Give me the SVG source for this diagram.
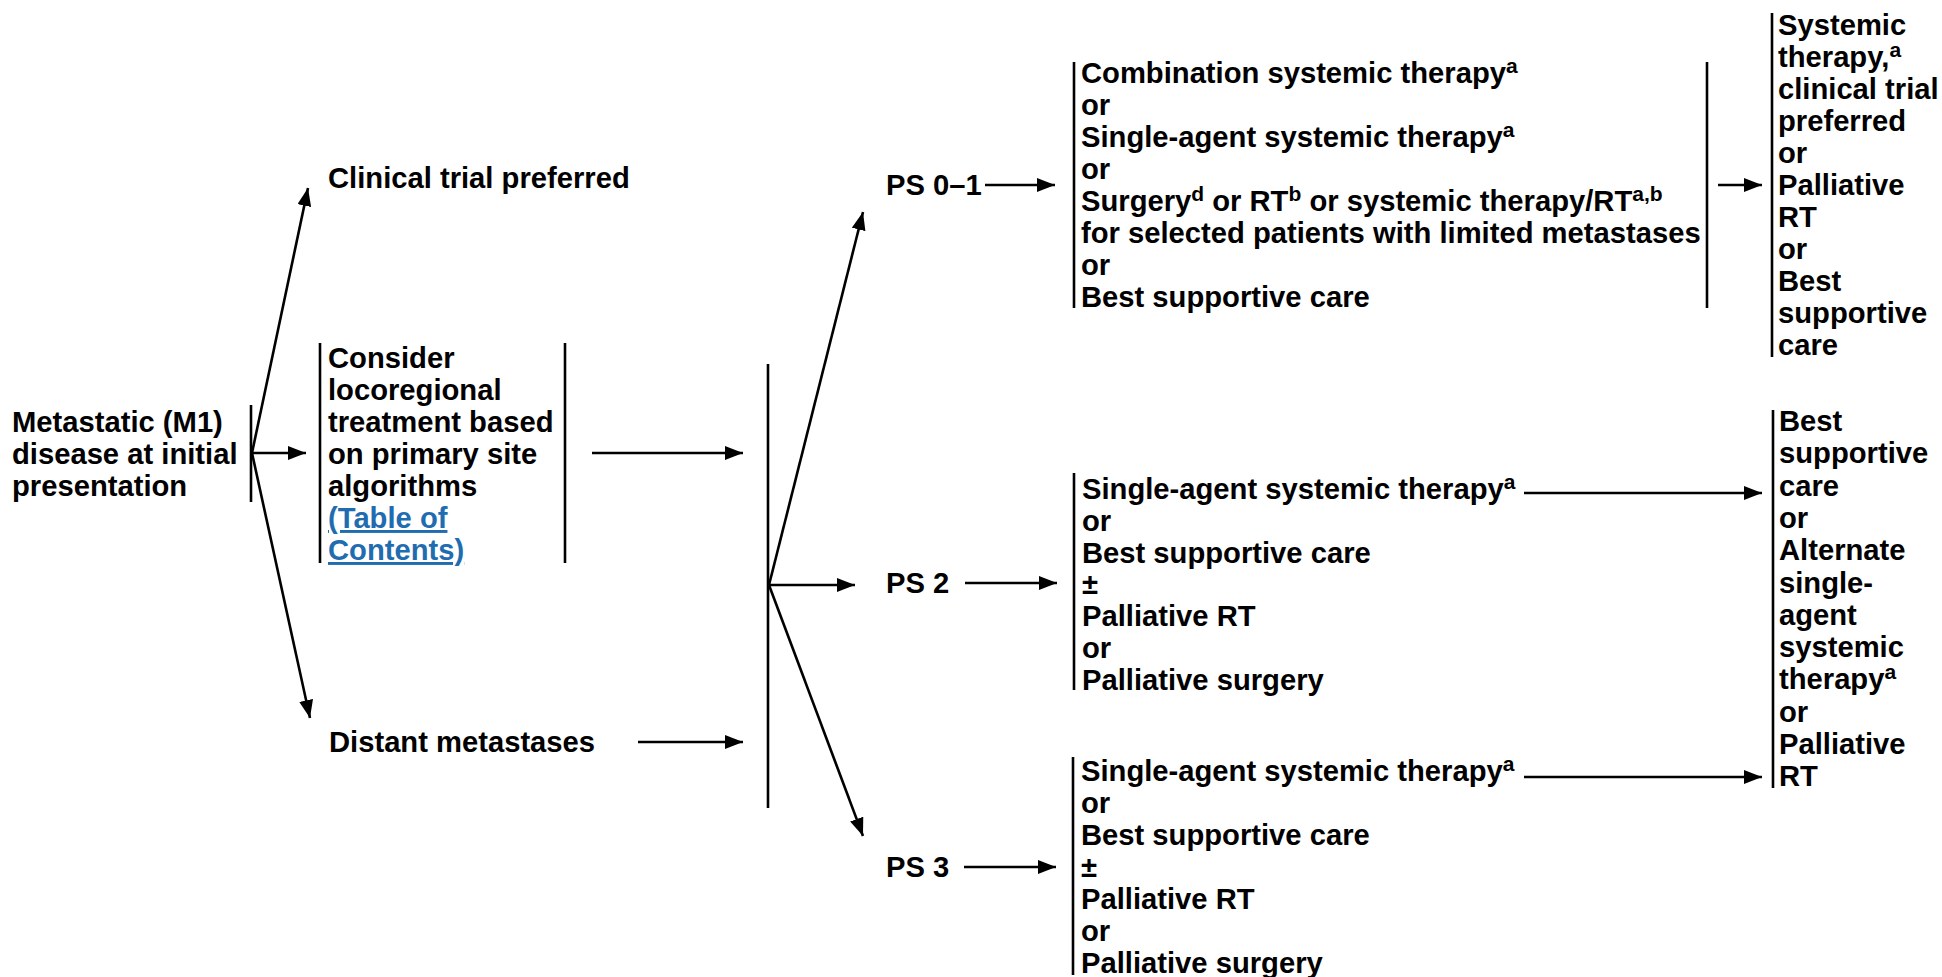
<svg xmlns="http://www.w3.org/2000/svg" width="1942" height="977" viewBox="0 0 1942 977">
<style>
text{font-family:"Liberation Sans",Arial,sans-serif;font-weight:bold;font-size:29.2px;fill:#000}
.sup{font-size:21px}
.link{fill:#1f6db0;text-decoration:underline}
.bar{stroke:#000;stroke-width:2.6;fill:none}
.con{stroke:#000;stroke-width:2.6;fill:none;marker-end:url(#ah)}
</style>
<defs>
<marker id="ah" markerUnits="userSpaceOnUse" markerWidth="18" markerHeight="14" refX="18" refY="7" orient="auto">
<path d="M0,0 L18,7 L0,14 z" fill="#000"/>
</marker>
</defs>
<rect width="1942" height="977" fill="#fff"/>

<g id="m1">
<text x="12" y="432">Metastatic (M1)</text>
<text x="12" y="464">disease at initial</text>
<text x="12" y="496">presentation</text>
<line class="bar" x1="251" y1="405" x2="251" y2="502"/>
</g>

<g id="clinical-trial">
<text x="328" y="188">Clinical trial preferred</text>
</g>

<g id="consider">
<line class="bar" x1="320" y1="343" x2="320" y2="563"/>
<line class="bar" x1="565" y1="343" x2="565" y2="563"/>
<text x="328" y="368">Consider</text>
<text x="328" y="400">locoregional</text>
<text x="328" y="432">treatment based</text>
<text x="328" y="464">on primary site</text>
<text x="328" y="496">algorithms</text>
<text x="328" y="528" class="link">(Table of</text>
<text x="328" y="560" class="link">Contents)</text>
</g>

<g id="distant">
<text x="329" y="752">Distant metastases</text>
</g>

<g id="merge-bar">
<line class="bar" x1="768" y1="364" x2="768" y2="808"/>
</g>

<g id="ps01">
<text x="886" y="195">PS 0–1</text>
</g>
<g id="ps2">
<text x="886" y="593">PS 2</text>
</g>
<g id="ps3">
<text x="886" y="877">PS 3</text>
</g>

<g id="ps01-options">
<line class="bar" x1="1074" y1="62" x2="1074" y2="308"/>
<line class="bar" x1="1707" y1="62" x2="1707" y2="308"/>
<text x="1081" y="83">Combination systemic therapy<tspan class="sup" dy="-10">a</tspan></text>
<text x="1081" y="115">or</text>
<text x="1081" y="147">Single-agent systemic therapy<tspan class="sup" dy="-10">a</tspan></text>
<text x="1081" y="179">or</text>
<text x="1081" y="211">Surgery<tspan class="sup" dy="-10">d</tspan><tspan dy="10"> or RT</tspan><tspan class="sup" dy="-10">b</tspan><tspan dy="10"> or systemic therapy/RT</tspan><tspan class="sup" dy="-10">a,b</tspan></text>
<text x="1081" y="243">for selected patients with limited metastases</text>
<text x="1081" y="275">or</text>
<text x="1081" y="307">Best supportive care</text>
</g>

<g id="ps01-next">
<line class="bar" x1="1772" y1="13" x2="1772" y2="357"/>
<text x="1778" y="35">Systemic</text>
<text x="1778" y="67">therapy,<tspan class="sup" dy="-10">a</tspan></text>
<text x="1778" y="99">clinical trial</text>
<text x="1778" y="131">preferred</text>
<text x="1778" y="163">or</text>
<text x="1778" y="195">Palliative</text>
<text x="1778" y="227">RT</text>
<text x="1778" y="259">or</text>
<text x="1778" y="291">Best</text>
<text x="1778" y="323">supportive</text>
<text x="1778" y="355">care</text>
</g>

<g id="ps2-options">
<line class="bar" x1="1074" y1="473" x2="1074" y2="690"/>
<text x="1082" y="499">Single-agent systemic therapy<tspan class="sup" dy="-10">a</tspan></text>
<text x="1082" y="531">or</text>
<text x="1082" y="563">Best supportive care</text>
<text x="1082" y="594">±</text>
<text x="1082" y="626">Palliative RT</text>
<text x="1082" y="658">or</text>
<text x="1082" y="690">Palliative surgery</text>
</g>

<g id="ps3-options">
<line class="bar" x1="1073" y1="757" x2="1073" y2="975"/>
<text x="1081" y="781">Single-agent systemic therapy<tspan class="sup" dy="-10">a</tspan></text>
<text x="1081" y="813">or</text>
<text x="1081" y="845">Best supportive care</text>
<text x="1081" y="877">±</text>
<text x="1081" y="909">Palliative RT</text>
<text x="1081" y="941">or</text>
<text x="1081" y="973">Palliative surgery</text>
</g>

<g id="ps23-next">
<line class="bar" x1="1773" y1="410" x2="1773" y2="788"/>
<text x="1779" y="431">Best</text>
<text x="1779" y="463">supportive</text>
<text x="1779" y="496">care</text>
<text x="1779" y="528">or</text>
<text x="1779" y="560">Alternate</text>
<text x="1779" y="593">single-</text>
<text x="1779" y="625">agent</text>
<text x="1779" y="657">systemic</text>
<text x="1779" y="689">therapy<tspan class="sup" dy="-10">a</tspan></text>
<text x="1779" y="722">or</text>
<text x="1779" y="754">Palliative</text>
<text x="1779" y="786">RT</text>
</g>

<g id="connectors">
<line class="con" x1="252" y1="453" x2="308" y2="188"/>
<line class="con" x1="252" y1="453" x2="306" y2="453"/>
<line class="con" x1="252" y1="453" x2="310" y2="718"/>
<line class="con" x1="592" y1="453" x2="743" y2="453"/>
<line class="con" x1="638" y1="742" x2="743" y2="742"/>
<line class="con" x1="769" y1="585" x2="863" y2="212"/>
<line class="con" x1="769" y1="585" x2="855" y2="585"/>
<line class="con" x1="769" y1="585" x2="863" y2="836"/>
<line class="con" x1="985" y1="185" x2="1055" y2="185"/>
<line class="con" x1="965" y1="583" x2="1057" y2="583"/>
<line class="con" x1="964" y1="867" x2="1056" y2="867"/>
<line class="con" x1="1718" y1="185" x2="1762" y2="185"/>
<line class="con" x1="1524" y1="493" x2="1762" y2="493"/>
<line class="con" x1="1524" y1="777" x2="1762" y2="777"/>
</g>
</svg>
